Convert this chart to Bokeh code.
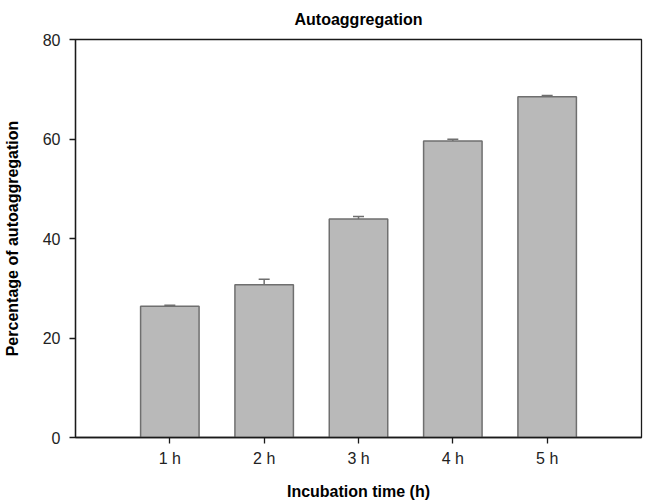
from bokeh.plotting import figure
from bokeh.models import Range1d, FixedTicker, ColumnDataSource, Whisker, TeeHead
from bokeh.embed import file_html
from bokeh.resources import INLINE

title_text = "Autoaggregation"
categories = ["1 h", "2 h", "3 h", "4 h", "5 h"]
values = [26.4, 30.7, 43.9, 59.6, 68.5]
errors = [0.2, 1.1, 0.5, 0.35, 0.25]
y_ticks = [0, 20, 40, 60, 80]

xs = list(range(1, len(categories) + 1))
tops = [v + e for v, e in zip(values, errors)]
src = ColumnDataSource(dict(x=xs, top=values, upper=tops))

FONT = "Liberation Sans"

p = figure(width=645, height=504, output_backend="svg", toolbar_location=None,
           x_range=Range1d(0, len(categories) + 1), y_range=Range1d(0, 80),
           min_border_left=73, min_border_right=4, min_border_top=39, min_border_bottom=67)

p.title.text = title_text
p.title.align = "center"
p.title.vertical_align = "top"
p.title.text_font = FONT
p.title.text_font_size = "16px"
p.title.text_font_style = "bold"
p.title.text_color = "#000000"
p.title.text_line_height = 0.6
p.title.standoff = 19

p.vbar(x="x", top="top", bottom=0, width=0.62, source=src,
       fill_color="#b9b9b9", line_color="#6f6f6f", line_width=1.5)

w = Whisker(base="x", upper="upper", lower="top", source=src,
            line_color="#6f6f6f", line_width=1.5,
            upper_head=TeeHead(size=11, line_color="#6f6f6f", line_width=1.5),
            lower_head=None)
p.add_layout(w)

p.xgrid.visible = False
p.ygrid.visible = False
p.outline_line_color = "#1a1a1a"
p.outline_line_width = 1.3
p.background_fill_color = "white"
p.border_fill_color = "white"

p.xaxis.ticker = FixedTicker(ticks=xs)
p.xaxis.major_label_overrides = {x: c for x, c in zip(xs, categories)}
p.yaxis.ticker = FixedTicker(ticks=y_ticks)

for ax in (p.xaxis[0], p.yaxis[0]):
    ax.axis_line_color = "#1a1a1a"
    ax.axis_line_width = 1.3
    ax.major_tick_line_color = "#1a1a1a"
    ax.major_tick_line_width = 1.3
    ax.major_tick_out = 6
    ax.major_tick_in = 0
    ax.minor_tick_line_color = None
    ax.major_label_text_font = FONT
    ax.major_label_text_font_size = "16px"
    ax.major_label_text_color = "#222222"
    ax.axis_label_text_font = FONT
    ax.axis_label_text_font_size = "16px"
    ax.axis_label_text_font_style = "bold"
    ax.axis_label_text_color = "#000000"

p.xaxis.axis_label = "Incubation time (h)"
p.yaxis.axis_label = "Percentage of autoaggregation"
p.xaxis.major_label_standoff = 6
p.xaxis.axis_label_standoff = 13
p.yaxis.major_label_standoff = 9
p.yaxis.axis_label_standoff = 19

open("out.html", "w").write(file_html(p, INLINE))
